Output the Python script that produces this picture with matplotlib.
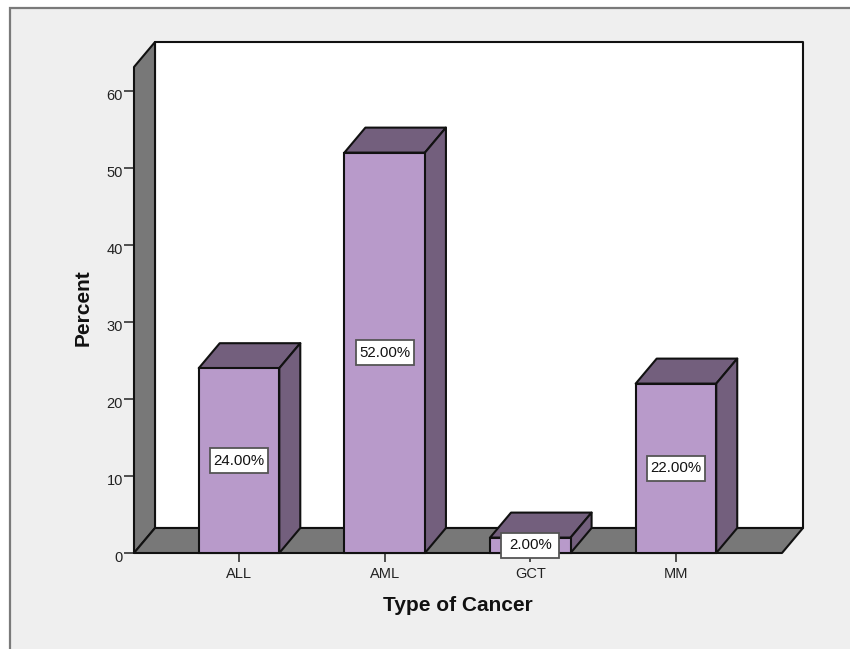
import matplotlib
matplotlib.use("Agg")
import matplotlib.pyplot as plt
from matplotlib.patches import Polygon, Rectangle
from matplotlib.transforms import ScaledTranslation

categories = ["ALL", "AML", "GCT", "MM"]
percent = [24.0, 52.0, 2.0, 22.0]
value_ticks = [0, 10, 20, 30, 40, 50, 60]

panel_bg = "#efefef"
wall_grey = "#787878"
bar_front = "#b89aca"
bar_dark = "#735f7d"
ink = "#111111"

W, H = 850, 649
fig = plt.figure(figsize=(W / 100, H / 100), dpi=100, facecolor="white")
plt.rcParams["font.family"] = ["Liberation Sans", "DejaVu Sans"]

# Panel behind the chart, open towards the right and bottom edges
panel = fig.add_axes([0, 0, 1, 1], zorder=0)
panel.set_xlim(0, W)
panel.set_ylim(H, 0)
panel.axis("off")
panel.add_patch(Rectangle((10.5, 7.5), W, H, fc=panel_bg, ec="#7a7a7a", lw=1.6))

# Front plane of the 3D box
left, right, bottom, top = 134, 782, 553, 67
ax = fig.add_axes([left / W, 1 - bottom / H, (right - left) / W, (bottom - top) / H], zorder=1)
ax.patch.set_alpha(0)
xmin, xmax = -0.721, 3.728
ymin, ymax = 0, 63.12
ax.set_xlim(xmin, xmax)
ax.set_ylim(ymin, ymax)
depth_x = 21 / 145.67
depth_y = 25 / 7.7
bar_width = 0.553
box_w = 58 / 145.67
box_h = 25 / 7.7


def face(points, color, z, lw=1.5):
    ax.add_patch(Polygon(points, closed=True, fc=color, ec=ink, lw=lw,
                         joinstyle="round", clip_on=False, zorder=z))


# Back wall, side wall and floor
face([(xmin + depth_x, depth_y), (xmax + depth_x, depth_y),
      (xmax + depth_x, ymax + depth_y), (xmin + depth_x, ymax + depth_y)], "white", 1)
face([(xmin, 0), (xmin + depth_x, depth_y),
      (xmin + depth_x, ymax + depth_y), (xmin, ymax)], wall_grey, 2)
face([(xmin, 0), (xmax, 0), (xmax + depth_x, depth_y), (xmin + depth_x, depth_y)], wall_grey, 2)

# Bars with their top and side faces, each carrying a boxed value label
for i, value in enumerate(percent):
    x0, x1 = i - bar_width / 2, i + bar_width / 2
    face([(x0, value), (x1, value), (x1 + depth_x, value + depth_y), (x0 + depth_x, value + depth_y)], bar_dark, 3)
    face([(x1, 0), (x1 + depth_x, depth_y), (x1 + depth_x, value + depth_y), (x1, value)], bar_dark, 3)
    ax.bar(i, value, width=bar_width, color=bar_front, edgecolor=ink, linewidth=1.5, zorder=4, clip_on=False)
    mid = value / 2
    ax.add_patch(Rectangle((i - box_w / 2, mid - box_h / 2), box_w, box_h, fc="white",
                           ec="#555555", lw=1.3, clip_on=False, zorder=5))
    ax.text(i, mid, f"{value:.2f}%", ha="center", va="center", fontsize=10.8, color=ink, zorder=6)

ax.set_xticks(range(len(categories)), categories)
ax.set_yticks(value_ticks)
ax.tick_params(axis="both", width=1.2, color="#333333", labelsize=10.5, labelcolor="#222222")
ax.tick_params(axis="x", length=6.5, pad=3.4)
ax.tick_params(axis="y", length=7.2, pad=0.8)

# Value labels sit slightly below their tick marks
nudge = ScaledTranslation(0, -3 / 100, fig.dpi_scale_trans)
for label in ax.get_yticklabels():
    label.set_transform(label.get_transform() + nudge)

for spine in ax.spines.values():
    spine.set_visible(False)

ax.set_xlabel("Type of Cancer", fontsize=15, fontweight="bold", color=ink, va="center")
ax.xaxis.set_label_coords(0.5, -0.109)
ax.set_ylabel("Percent", fontsize=15, fontweight="bold", color=ink, va="center")
ax.yaxis.set_label_coords(-0.0787, 0.504)

fig.savefig("out.png", dpi=100, facecolor="white")
